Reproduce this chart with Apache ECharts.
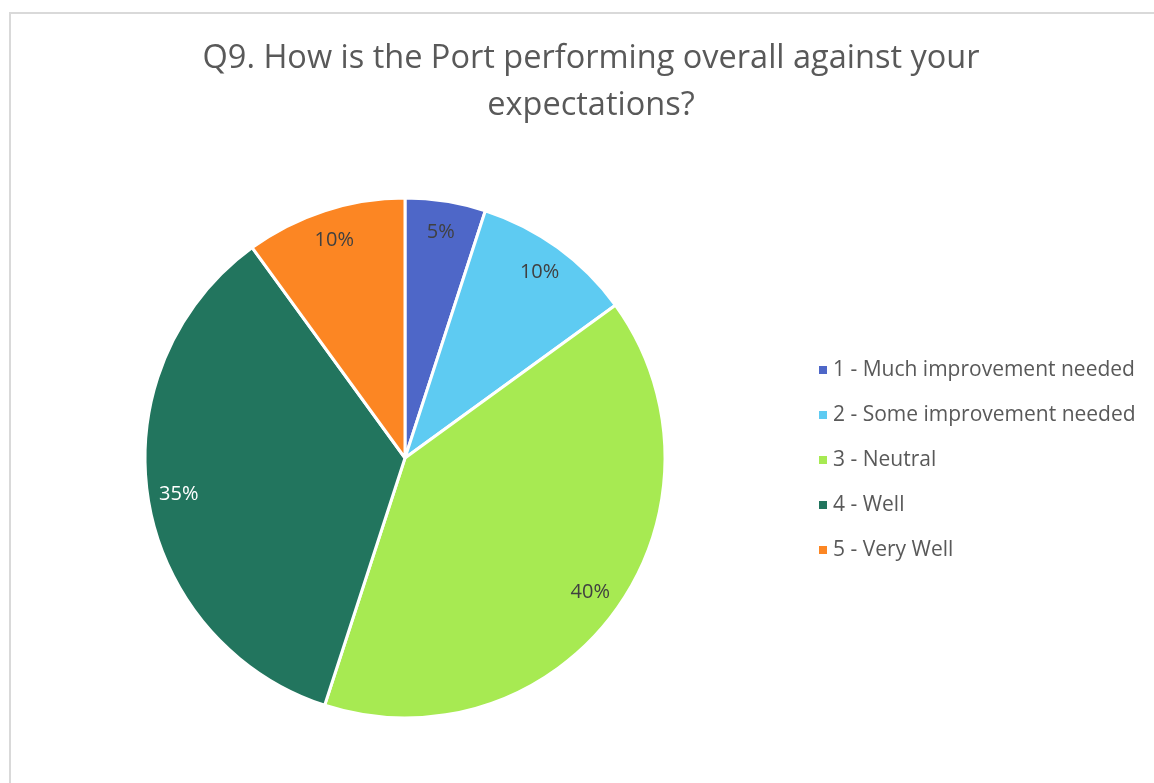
<!DOCTYPE html>
<html>
<head>
<meta charset="utf-8">
<style>
  html, body { margin: 0; padding: 0; background: #ffffff; }
  #frame { position: absolute; left: 9px; top: 12px; width: 1160px; height: 790px;
           border: 2px solid #d9d9d9; box-sizing: border-box; }
  #chart { position: absolute; left: 0; top: 0; width: 1154px; height: 783px; }
</style>
<script src="https://cdn.jsdelivr.net/npm/echarts@6/dist/echarts.min.js"></script>
</head>
<body>
<div id="frame"></div>
<div id="chart"></div>
<script>
// Survey answers for Q9 and their share of responses (%)
const categories = [
  '1 - Much improvement needed',
  '2 - Some improvement needed',
  '3 - Neutral',
  '4 - Well',
  '5 - Very Well'
];
const shares = [5, 10, 40, 35, 10];
const sliceColors = ['#4e67c8', '#5ecbf2', '#a7ea52', '#22755e', '#fc8623'];
const labelColors = ['#404040', '#404040', '#404040', '#ffffff', '#404040'];

const FONT = '"Open Sans", "DejaVu Sans", sans-serif';

const pieData = categories.map((name, i) => ({
  name: name,
  value: shares[i],
  itemStyle: { color: sliceColors[i] }
}));

// Transparent ring that only carries the percentage labels near the rim
const labelData = categories.map((name, i) => ({
  name: name,
  value: shares[i],
  label: { color: labelColors[i] }
}));

const chart = echarts.init(document.getElementById('chart'), null, { renderer: 'canvas' });
chart.setOption({
  animation: false,
  title: {
    text: 'Q9. How is the Port performing overall against your\nexpectations?',
    left: 586,
    top: 30,
    textAlign: 'center',
    textStyle: {
      fontFamily: FONT,
      fontSize: 32.5,
      fontWeight: 'normal',
      color: '#595959',
      lineHeight: 47
    }
  },
  legend: {
    orient: 'vertical',
    left: 814,
    top: 354,
    icon: 'rect',
    itemWidth: 8,
    itemHeight: 8,
    itemGap: 23,
    itemStyle: { borderWidth: 0 },
    data: categories,
    selectedMode: false,
    textStyle: {
      fontFamily: FONT,
      fontSize: 21,
      color: '#595959',
      lineHeight: 22,
      padding: [0, 0, 0, 1]
    }
  },
  series: [
    {
      type: 'pie',
      center: [405, 458],
      radius: [0, 260],
      startAngle: 90,
      clockwise: true,
      silent: true,
      itemStyle: { borderColor: '#ffffff', borderWidth: 3 },
      label: { show: false },
      labelLine: { show: false },
      data: pieData
    },
    {
      type: 'pie',
      center: [405, 458],
      radius: [192, 260],
      startAngle: 90,
      clockwise: true,
      silent: true,
      legendHoverLink: false,
      itemStyle: { color: 'rgba(0,0,0,0)' },
      label: {
        show: true,
        position: 'inside',
        formatter: '{c}%',
        fontFamily: FONT,
        fontSize: 20
      },
      labelLine: { show: false },
      data: labelData
    }
  ]
});
</script>
</body>
</html>
